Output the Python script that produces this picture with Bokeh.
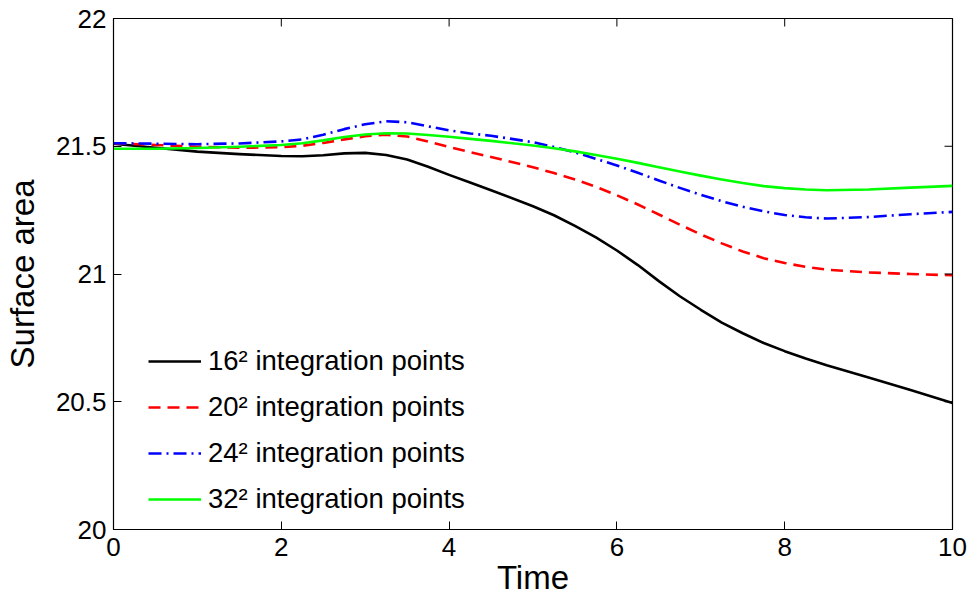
import math
from bokeh.plotting import figure
from bokeh.models import Range1d, FixedTicker, Legend, LegendItem
from bokeh.embed import file_html
from bokeh.resources import INLINE

# Surface area over time for four quadrature resolutions
time = [0, 0.5, 1.0, 1.5, 2.0, 2.25, 2.5, 2.75, 3.0, 3.25, 3.5, 3.75, 4.0, 4.25, 4.5, 5.0, 5.25,
        5.5, 5.75, 6.0, 6.25, 6.5, 6.75, 7.0, 7.25, 7.5, 7.75, 8.0, 8.25, 8.5, 9.0, 9.5, 10.0]
area_16 = [21.510, 21.494, 21.479, 21.469, 21.462, 21.461, 21.465, 21.472, 21.474, 21.466, 21.448,
           21.420, 21.388, 21.358, 21.328, 21.265, 21.230, 21.188, 21.143, 21.092, 21.035, 20.972,
           20.913, 20.860, 20.810, 20.768, 20.730, 20.698, 20.669, 20.643, 20.595, 20.546, 20.495]
area_20 = [21.512, 21.505, 21.498, 21.494, 21.496, 21.502, 21.513, 21.527, 21.539, 21.545, 21.538,
           21.518, 21.497, 21.477, 21.458, 21.418, 21.395, 21.370, 21.341, 21.308, 21.272, 21.233,
           21.193, 21.155, 21.120, 21.088, 21.062, 21.043, 21.028, 21.017, 21.006, 21.000, 20.995]
area_24 = [21.512, 21.510, 21.508, 21.511, 21.519, 21.527, 21.545, 21.567, 21.586, 21.598, 21.594,
           21.578, 21.562, 21.550, 21.541, 21.516, 21.497, 21.476, 21.451, 21.425, 21.396, 21.366,
           21.337, 21.310, 21.285, 21.263, 21.245, 21.231, 21.222, 21.217, 21.223, 21.234, 21.243]
area_32 = [21.490, 21.490, 21.493, 21.498, 21.505, 21.512, 21.523, 21.536, 21.546, 21.551, 21.550,
           21.544, 21.537, 21.529, 21.521, 21.503, 21.492, 21.480, 21.466, 21.451, 21.435, 21.418,
           21.401, 21.385, 21.370, 21.356, 21.344, 21.336, 21.331, 21.328, 21.331, 21.338, 21.345]

labels = ["16\u00b2 integration points", "20\u00b2 integration points",
          "24\u00b2 integration points", "32\u00b2 integration points"]
x_ticks = [0, 2, 4, 6, 8, 10]
y_ticks = [20, 20.5, 21, 21.5, 22]
x_min, x_max = 0, 10
y_min, y_max = 20, 22

FONT = "Liberation Sans"
TICK_LEN = 8

p = figure(width=971, height=598, output_backend="svg", toolbar_location=None,
           x_range=Range1d(x_min, x_max), y_range=Range1d(y_min, y_max),
           min_border_left=112, min_border_right=19, min_border_top=18, min_border_bottom=68)
p.background_fill_color = "white"
p.border_fill_color = "white"
p.outline_line_color = "black"
p.outline_line_width = 1.2
p.grid.visible = False

common = dict(line_width=2.6, line_join="round")
r16 = p.line(time, area_16, line_color="black", **common)
r20 = p.line(time, area_20, line_color="#ff0000", line_dash="12 7", **common)
r24 = p.line(time, area_24, line_color="#0000ff", line_dash="13 5 2 5", **common)
r32 = p.line(time, area_32, line_color="#00ff00", **common)

# mirrored inward ticks on the top and right edges of the box
p.ray(x=x_ticks, y=[y_max] * len(x_ticks), length=TICK_LEN, length_units="screen",
      angle=-math.pi / 2, line_color="black", line_width=1)
p.ray(x=[x_max] * len(y_ticks), y=y_ticks, length=TICK_LEN, length_units="screen",
      angle=math.pi, line_color="black", line_width=1)

xa = p.xaxis[0]
ya = p.yaxis[0]
for ax, ticks in ((xa, x_ticks), (ya, y_ticks)):
    ax.ticker = FixedTicker(ticks=ticks)
    ax.major_tick_in = TICK_LEN
    ax.major_tick_out = 0
    ax.minor_tick_line_color = None
    ax.axis_line_color = "black"
    ax.major_tick_line_color = "black"
    ax.major_label_text_font = FONT
    ax.major_label_text_font_size = "26px"
    ax.major_label_text_color = "black"
    ax.axis_label_text_font = FONT
    ax.axis_label_text_font_size = "33px"
    ax.axis_label_text_font_style = "normal"
    ax.axis_label_text_color = "black"
xa.axis_label = "Time"
ya.axis_label = "Surface area"
xa.major_label_standoff = 8
ya.major_label_standoff = 7
xa.axis_label_standoff = 0
ya.axis_label_standoff = 12

legend = Legend(items=[LegendItem(label=labels[0], renderers=[r16]),
                       LegendItem(label=labels[1], renderers=[r20]),
                       LegendItem(label=labels[2], renderers=[r24]),
                       LegendItem(label=labels[3], renderers=[r32])],
                location=(35, 14))
legend.border_line_color = None
legend.background_fill_alpha = 0
legend.padding = 0
legend.margin = 0
legend.glyph_width = 53
legend.glyph_height = 30
legend.label_height = 30
legend.spacing = 14
legend.label_standoff = 7
legend.label_text_font = FONT
legend.label_text_font_size = "27.5px"
legend.label_text_color = "black"
p.add_layout(legend, "center")

open("out.html", "w").write(file_html(p, INLINE))
